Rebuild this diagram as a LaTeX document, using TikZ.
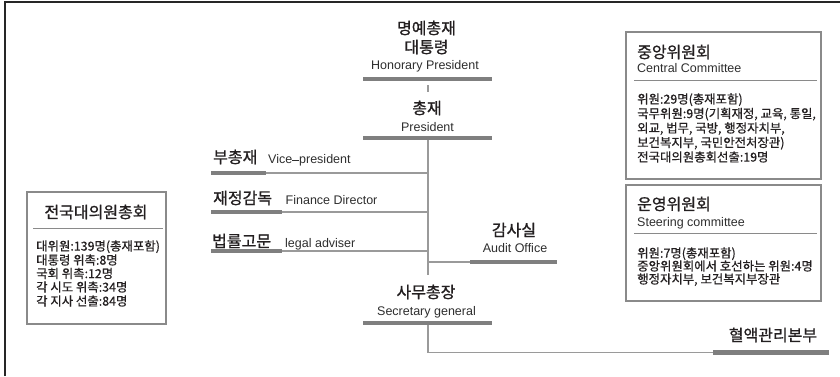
\documentclass[tikz,border=0pt]{standalone}
\usepackage{fontspec}
\setmainfont{Liberation Sans}
\newfontfamily\krhead[FakeBold=1.0]{Noto Sans CJK KR}
\newfontfamily\krbody[FakeBold=0.6]{Noto Sans CJK KR}
\definecolor{ink}{HTML}{231F20}
\definecolor{inkEn}{HTML}{2E2E2E}
\definecolor{barGray}{HTML}{7F7F7F}
\definecolor{lineGray}{HTML}{9A9A9A}
\definecolor{boxGray}{HTML}{8A8A8A}
\tikzset{
  head/.style={font=\krhead\fontsize{16}{18}\selectfont, text=ink, inner sep=0pt},
  eng/.style={font=\fontsize{12.5}{14}\selectfont, text=inkEn, inner sep=0pt},
  bodytxt/.style={font=\krbody\fontsize{12.4}{14}\selectfont, text=ink, inner sep=0pt, anchor=base west},
  bar/.style={fill=barGray, draw=none, minimum height=4.5pt, inner sep=0pt},
  link/.style={draw=lineGray, line width=1.2pt},
  panel/.style={draw=boxGray, line width=1.2pt},
  rule/.style={draw=boxGray, line width=1pt},
}
\begin{document}
\begin{tikzpicture}[x=1pt,y=-1pt]
\useasboundingbox (0,0) rectangle (840,376);
% frame
\draw[line width=1.6pt, black!85] (4.7,376) -- (4.7,1.8) -- (840,1.8);

% ---------- central column ----------
\node[head, anchor=base] (hpKr1) at (426.5,34) {명예총재};
\node[head, anchor=base] (hpKr2) at (426.5,53) {대통령};
\node[eng, anchor=base] (hpEn) at (425,69.5) {Honorary President};
\node[bar, minimum width=129pt] (hpBar) at (427.5,79) {};

\node[head, anchor=base] (pKr) at (427,114) {총재};
\node[eng, anchor=base] (pEn) at (427.5,131.5) {President};
\node[bar, minimum width=129pt] (pBar) at (427.5,138) {};

\coordinate (hpGapTop) at (428,85);
\coordinate (hpGapBot) at (428,92);
\draw[link] (hpGapTop) -- (hpGapBot);

% trunk
\coordinate (trunkTop) at (428,140.2);
\coordinate (trunkEnd) at (428,275);
\draw[link] (trunkTop) -- (trunkEnd);

% left branches
\node[head, anchor=base west] (vpKr) at (213,163) {부총재};
\node[eng, anchor=base west] (vpEn) at (268,163) {Vice\raisebox{0.3ex}{\rule{0.55em}{0.07em}}president};
\node[bar, minimum width=55pt] (vpBar) at (238.5,173) {};
\draw[link] (vpBar.east) -- (vpBar.east -| trunkTop);

\node[head, anchor=base west] (fdKr) at (213,204) {재정감독};
\node[eng, anchor=base west] (fdEn) at (285.5,204) {Finance Director};
\node[bar, minimum width=71pt] (fdBar) at (246.5,212) {};
\draw[link] (fdBar.east) -- (fdBar.east -| trunkTop);

\node[head, anchor=base west] (laKr) at (212,247) {법률고문};
\node[eng, anchor=base west] (laEn) at (285,247) {legal adviser};
\node[bar, minimum width=71pt] (laBar) at (246.5,251) {};
\draw[link] (laBar.east) -- (laBar.east -| trunkTop);

% audit office
\node[head, anchor=base] (auKr) at (514,236) {감사실};
\node[eng, anchor=base] (auEn) at (515,252.5) {Audit Office};
\node[bar, minimum width=87pt] (auBar) at (513.5,262) {};
\draw[link] (auBar.west -| trunkTop) -- (auBar.west);

% secretary general
\node[head, anchor=base] (sgKr) at (426,298) {사무총장};
\node[eng, anchor=base] (sgEn) at (426.5,315.5) {Secretary general};
\node[bar, minimum width=129pt] (sgBar) at (427.5,323) {};

% blood services headquarters
\node[head, anchor=base] (bsKr) at (773,341) {혈액관리본부};
\node[bar, minimum width=116pt] (bsBar) at (771,352.3) {};
\coordinate (bsTurn) at (428,352.3);
\draw[link] (sgBar.south -| bsTurn) -- (bsTurn) -- (bsBar.west);

% ---------- left panel ----------
\draw[panel] (27,192) rectangle (166,324);
\node[head, anchor=base] (ngKr) at (96,218) {전국대의원총회};
\draw[rule] (33,228) -- (163,228);
\node[bodytxt] (ng1) at (36,250.6) {대위원:139명(총재포함)};
\node[bodytxt] (ng2) at (36,264.6) {대통령 위촉:8명};
\node[bodytxt] (ng3) at (36,278.1) {국회 위촉:12명};
\node[bodytxt] (ng4) at (36,291.6) {각 시도 위촉:34명};
\node[bodytxt] (ng5) at (36,305.6) {각 지사 선출:84명};

% ---------- central committee ----------
\draw[panel] (626,32) rectangle (821,179);
\node[head, anchor=base west] (ccKr) at (637,58) {중앙위원회};
\node[eng, anchor=base west] (ccEn) at (637,72.5) {Central Committee};
\draw[rule] (634,80) -- (817,80);
\node[bodytxt] (cc1) at (637,103.6) {위원:29명(총재포함)};
\node[bodytxt] (cc2) at (637,118.1) {국무위원:9명(기획재정, 교육, 통일,};
\node[bodytxt] (cc3) at (637,132.6) {외교, 법무, 국방, 행정자치부,};
\node[bodytxt] (cc4) at (637,147.1) {보건복지부, 국민안전처장관)};
\node[bodytxt] (cc5) at (637,161.6) {전국대의원총회선출:19명};

% ---------- steering committee ----------
\draw[panel] (626,185) rectangle (821,301);
\node[head, anchor=base west] (scKr) at (637,210) {운영위원회};
\node[eng, anchor=base west] (scEn) at (637,226.5) {Steering committee};
\draw[rule] (634,233) -- (817,233);
\node[bodytxt] (sc1) at (637,257.6) {위원:7명(총재포함)};
\node[bodytxt] (sc2) at (637,270.6) {중앙위원회에서 호선하는 위원:4명};
\node[bodytxt] (sc3) at (637,283.6) {행정자치부, 보건복지부장관};
\end{tikzpicture}
\end{document}
